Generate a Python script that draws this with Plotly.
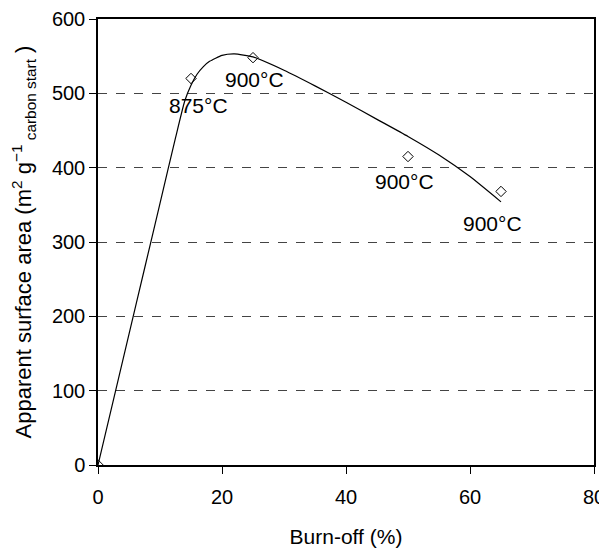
import plotly.graph_objects as go

burnoff = [0, 15, 25, 50, 65]
surface_area = [0, 520, 548, 415, 368]
labels = ["", "875°C", "900°C", "900°C", "900°C"]
label_x = [None, 16.2, 25.2, 49.4, 63.7]
label_y = [None, 483, 519, 381, 325]

fit_x = [0, 2.5, 5, 7.5, 10, 12.5, 14, 15, 16, 17, 18, 20, 22, 25, 30, 35, 40, 45, 50, 55, 60, 65]
fit_y = [0, 88, 176, 264, 352, 440, 490, 511, 526, 536, 543, 551, 553, 549, 531, 510, 488, 465, 442, 417, 388, 354]

FONT = "Liberation Sans, Arial, sans-serif"

fig = go.Figure()
fig.add_trace(go.Scatter(x=fit_x, y=fit_y, mode="lines",
                         line=dict(color="black", width=1.2, shape="spline", smoothing=0.5),
                         showlegend=False, hoverinfo="skip"))
fig.add_trace(go.Scatter(x=burnoff, y=surface_area, mode="markers",
                         marker=dict(symbol="diamond-open", size=8, color="black",
                                     line=dict(width=1, color="black")),
                         showlegend=False))

for t, lx, ly in zip(labels, label_x, label_y):
    if t:
        fig.add_annotation(x=lx, y=ly, text=t, showarrow=False,
                           font=dict(family=FONT, size=21, color="black"))

# page body has an 8px margin, so the figure is sized/offset to compensate
fig.update_layout(
    width=599, height=540,
    margin=dict(l=90, r=13, t=11, b=83, autoexpand=False),
    plot_bgcolor="white", paper_bgcolor="white",
    font=dict(family=FONT, size=20, color="black"),
    xaxis=dict(range=[0, 80], tickvals=[0, 20, 40, 60, 80], showgrid=False,
               zeroline=False, showline=True, linecolor="black", linewidth=1.5,
               mirror=True, ticks="outside", ticklen=7, tickcolor="black",
               ticklabelstandoff=6, automargin=False,
               title=dict(text="Burn-off (%)", font=dict(size=21), standoff=25)),
    yaxis=dict(range=[0, 600], tickvals=[0, 100, 200, 300, 400, 500, 600],
               showgrid=True, gridcolor="#444444", griddash="dash", gridwidth=1,
               zeroline=False, showline=True, linecolor="black", linewidth=1.5,
               mirror=True, ticks="outside", ticklen=7, tickcolor="black",
               automargin=False,
               title=dict(text="Apparent surface area (m<sup>2</sup> g<sup>−1</sup><sub> carbon start</sub> )",
                          font=dict(size=22), standoff=24)),
)

fig.write_html("out.html")
